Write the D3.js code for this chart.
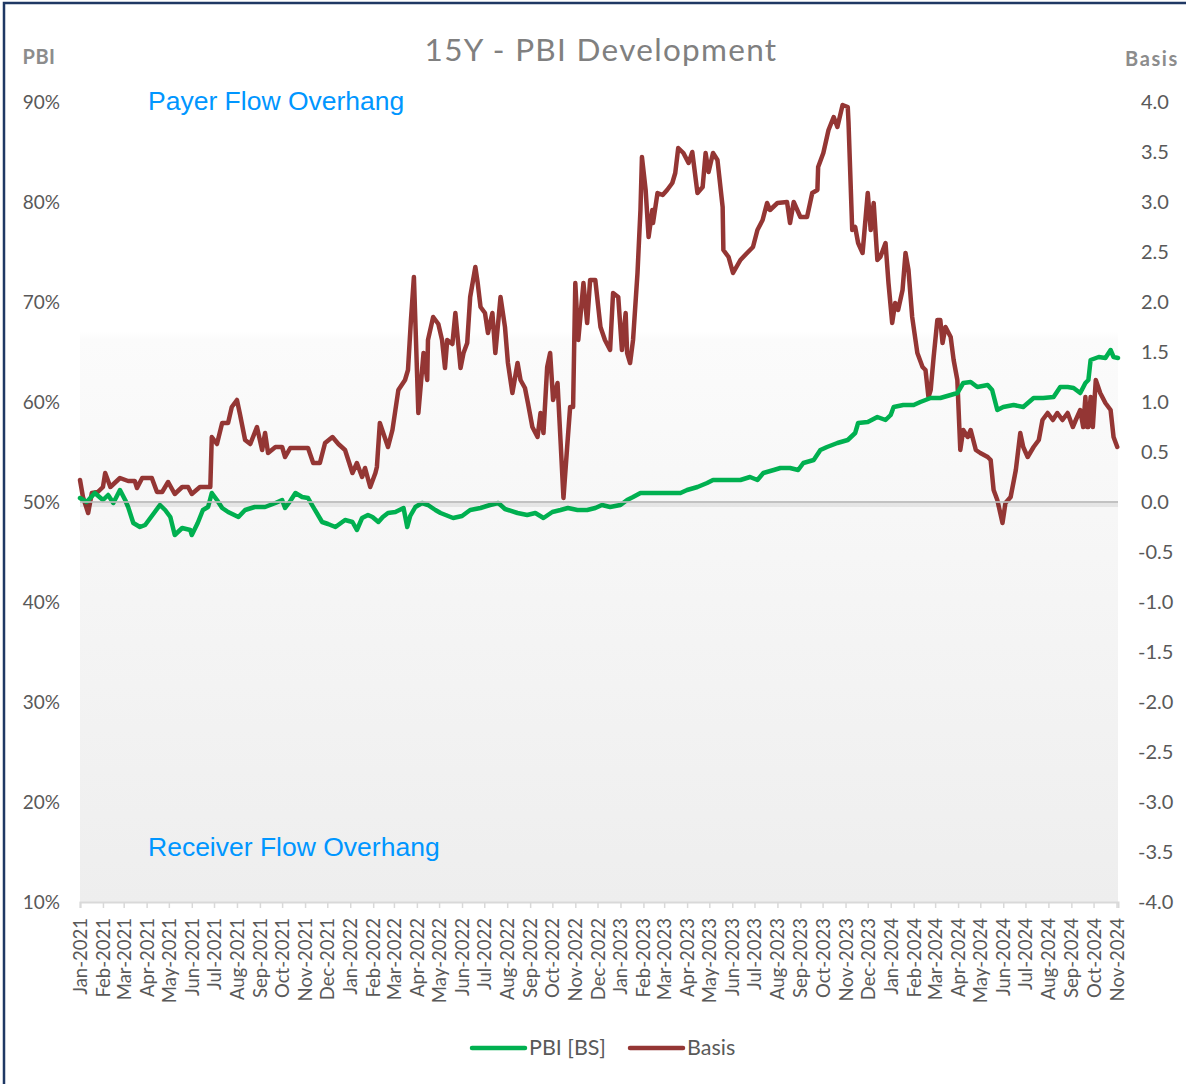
<!DOCTYPE html>
<html>
<head>
<meta charset="utf-8">
<script src="https://cdn.jsdelivr.net/npm/d3@7"></script>
<style>
  html, body { margin: 0; padding: 0; background: #fff; }
  svg { display: block; }
</style>
</head>
<body>
<div id="chart"></div>
<script>
// ---- data ----
const basisDates = [
  "2021-01-01","2021-01-05","2021-01-12","2021-01-17","2021-01-25","2021-02-01","2021-02-04","2021-02-11","2021-02-24","2021-03-07",
  "2021-03-16","2021-03-19","2021-03-26","2021-04-08","2021-04-15","2021-04-22","2021-04-30","2021-05-09","2021-05-19","2021-05-27",
  "2021-06-01","2021-06-12","2021-06-26","2021-06-28","2021-07-05","2021-07-12","2021-07-20","2021-07-25","2021-08-01","2021-08-05",
  "2021-08-12","2021-08-19","2021-08-28","2021-09-04","2021-09-08","2021-09-12","2021-09-22","2021-10-01","2021-10-05","2021-10-12",
  "2021-10-25","2021-11-05","2021-11-12","2021-11-21","2021-11-28","2021-12-08","2021-12-16","2021-12-25","2022-01-04","2022-01-10",
  "2022-01-17","2022-01-21","2022-01-28","2022-02-04","2022-02-06","2022-02-10","2022-02-21","2022-02-27","2022-03-03","2022-03-07",
  "2022-03-16","2022-03-20","2022-03-24","2022-03-28","2022-04-03","2022-04-10","2022-04-15","2022-04-16","2022-04-23","2022-04-30",
  "2022-05-05","2022-05-09","2022-05-12","2022-05-19","2022-05-23","2022-05-30","2022-06-03","2022-06-08","2022-06-12","2022-06-19",
  "2022-06-22","2022-06-26","2022-07-02","2022-07-06","2022-07-12","2022-07-16","2022-07-23","2022-07-29","2022-08-02","2022-08-08",
  "2022-08-15","2022-08-19","2022-08-25","2022-08-29","2022-09-04","2022-09-11","2022-09-15","2022-09-19","2022-09-24","2022-09-28",
  "2022-10-02","2022-10-08","2022-10-12","2022-10-16","2022-10-21","2022-10-25","2022-10-29","2022-11-01","2022-11-05","2022-11-12",
  "2022-11-17","2022-11-21","2022-11-28","2022-12-05","2022-12-11","2022-12-18","2022-12-22","2022-12-29","2023-01-03","2023-01-08",
  "2023-01-10","2023-01-14","2023-01-18","2023-01-24","2023-01-28","2023-01-30","2023-02-04","2023-02-08","2023-02-13","2023-02-14",
  "2023-02-20","2023-02-27","2023-03-05","2023-03-12","2023-03-16","2023-03-20","2023-03-27","2023-04-03","2023-04-08","2023-04-15",
  "2023-04-22","2023-04-26","2023-04-30","2023-05-06","2023-05-12","2023-05-19","2023-05-20","2023-05-27","2023-06-02","2023-06-12",
  "2023-06-21","2023-06-29","2023-07-05","2023-07-12","2023-07-18","2023-07-22","2023-08-01","2023-08-14","2023-08-18","2023-08-23",
  "2023-09-01","2023-09-10","2023-09-17","2023-09-24","2023-09-25","2023-10-02","2023-10-09","2023-10-16","2023-10-21","2023-10-28",
  "2023-11-04","2023-11-05","2023-11-10","2023-11-14","2023-11-18","2023-11-24","2023-12-01","2023-12-05","2023-12-09","2023-12-14",
  "2023-12-18","2023-12-25","2023-12-29","2024-01-03","2024-01-07","2024-01-11","2024-01-17","2024-01-21","2024-01-25","2024-01-30",
  "2024-02-06","2024-02-13","2024-02-17","2024-02-21","2024-02-24","2024-02-28","2024-03-04","2024-03-08","2024-03-11","2024-03-15",
  "2024-03-22","2024-03-26","2024-03-31","2024-04-04","2024-04-08","2024-04-14","2024-04-18","2024-04-25","2024-05-01","2024-05-11",
  "2024-05-15","2024-05-19","2024-05-24","2024-05-31","2024-06-04","2024-06-11","2024-06-18","2024-06-24","2024-06-28","2024-07-04",
  "2024-07-12","2024-07-19","2024-07-24","2024-07-31","2024-08-07","2024-08-13","2024-08-20","2024-08-27","2024-09-03","2024-09-07",
  "2024-09-13","2024-09-17","2024-09-20","2024-09-22","2024-09-24","2024-09-27","2024-09-30","2024-10-04","2024-10-10","2024-10-17",
  "2024-10-24","2024-10-28","2024-11-02"
];
const basisValues = [
  0.22,0.05,-0.11,0.09,0.10,0.15,0.29,0.15,0.24,0.21,
  0.21,0.14,0.24,0.24,0.10,0.10,0.20,0.08,0.15,0.15,
  0.08,0.15,0.15,0.65,0.58,0.79,0.79,0.95,1.02,0.88,
  0.62,0.58,0.75,0.52,0.69,0.49,0.55,0.55,0.45,0.54,
  0.54,0.54,0.39,0.39,0.59,0.65,0.58,0.52,0.29,0.39,
  0.25,0.34,0.15,0.29,0.35,0.79,0.55,0.72,0.92,1.12,
  1.22,1.32,1.82,2.25,0.89,1.49,1.22,1.62,1.85,1.78,
  1.62,1.34,1.62,1.58,1.89,1.34,1.49,1.59,2.05,2.35,
  2.20,1.95,1.89,1.69,1.89,1.49,2.05,1.75,1.39,1.09,
  1.39,1.22,1.14,0.99,0.75,0.65,0.89,0.69,1.35,1.49,
  1.02,1.19,0.62,0.04,0.55,0.95,0.95,2.19,1.62,2.19,
  1.79,2.22,2.22,1.75,1.62,1.52,2.09,2.05,1.52,1.89,
  1.49,1.39,1.62,2.29,2.92,3.45,3.12,2.65,2.92,2.79,
  3.09,3.07,3.12,3.19,3.29,3.54,3.49,3.39,3.50,3.09,
  3.15,3.49,3.30,3.49,3.42,2.95,2.52,2.45,2.29,2.42,
  2.49,2.55,2.72,2.82,2.99,2.92,2.99,3.00,2.79,3.00,
  2.85,2.85,3.09,3.12,3.35,3.49,3.72,3.85,3.75,3.97,
  3.95,3.80,2.72,2.75,2.59,2.49,3.09,2.72,2.99,2.42,
  2.45,2.59,2.19,1.79,1.99,1.92,2.12,2.49,2.32,1.85,
  1.49,1.35,1.32,1.05,1.12,1.45,1.82,1.82,1.59,1.75,
  1.65,1.42,1.22,0.52,0.72,0.65,0.72,0.52,0.49,0.45,
  0.42,0.12,0.02,-0.21,-0.01,0.05,0.32,0.69,0.55,0.45,
  0.55,0.62,0.82,0.89,0.82,0.89,0.82,0.89,0.75,0.82,
  0.92,0.75,1.05,0.75,0.75,1.05,0.75,1.22,1.09,0.99,
  0.92,0.65,0.55
];

const pbiDates = [
  "2021-01-01","2021-01-10","2021-01-21","2021-02-01","2021-02-08","2021-02-15","2021-02-24","2021-03-03","2021-03-07","2021-03-14",
  "2021-03-23","2021-03-30","2021-04-06","2021-04-12","2021-04-19","2021-04-26","2021-05-03","2021-05-09","2021-05-19","2021-05-30",
  "2021-06-01","2021-06-09","2021-06-16","2021-06-23","2021-06-28","2021-07-05","2021-07-12","2021-07-20","2021-08-03","2021-08-12",
  "2021-08-25","2021-09-08","2021-09-22","2021-10-01","2021-10-05","2021-10-12","2021-10-19","2021-10-28","2021-11-05","2021-11-12",
  "2021-11-24","2021-12-02","2021-12-12","2021-12-25","2022-01-04","2022-01-10","2022-01-17","2022-01-25","2022-01-31","2022-02-08",
  "2022-02-14","2022-02-21","2022-03-03","2022-03-14","2022-03-19","2022-03-23","2022-03-30","2022-04-08","2022-04-16","2022-04-26",
  "2022-05-03","2022-05-20","2022-06-01","2022-06-12","2022-06-26","2022-07-09","2022-07-20","2022-07-29","2022-08-15","2022-08-28",
  "2022-09-08","2022-09-19","2022-10-01","2022-10-12","2022-10-22","2022-11-04","2022-11-17","2022-11-28","2022-12-07","2022-12-18",
  "2023-01-01","2023-01-10","2023-01-18","2023-01-28","2023-02-10","2023-02-24","2023-03-09","2023-03-23","2023-04-01","2023-04-15",
  "2023-04-28","2023-05-06","2023-05-20","2023-05-29","2023-06-12","2023-06-25","2023-07-05","2023-07-13","2023-07-27","2023-08-05",
  "2023-08-18","2023-08-29","2023-09-05","2023-09-19","2023-09-28","2023-10-07","2023-10-21","2023-11-04","2023-11-14","2023-11-18",
  "2023-12-01","2023-12-14","2023-12-25","2024-01-01","2024-01-05","2024-01-18","2024-02-01","2024-02-10","2024-02-24","2024-03-08",
  "2024-03-22","2024-03-31","2024-04-08","2024-04-18","2024-04-27","2024-05-11","2024-05-17","2024-05-24","2024-06-01","2024-06-15",
  "2024-06-28","2024-07-12","2024-07-25","2024-08-08","2024-08-17","2024-08-27","2024-09-04","2024-09-13","2024-09-20","2024-09-24",
  "2024-09-27","2024-10-08","2024-10-17","2024-10-24","2024-10-28","2024-11-03"
];
const pbiValues = [
  50.4,50.0,50.9,50.2,50.7,49.9,51.2,50.2,49.5,47.9,
  47.5,47.7,48.4,49.0,49.7,49.2,48.5,46.7,47.4,47.2,
  46.7,47.9,49.2,49.5,50.9,50.2,49.4,49.0,48.5,49.2,
  49.5,49.5,49.9,50.2,49.4,50.1,50.9,50.5,50.4,49.5,
  48.0,47.8,47.5,48.2,48.0,47.2,48.4,48.7,48.5,48.0,
  48.5,48.9,49.0,49.4,47.5,48.6,49.5,49.9,49.7,49.2,
  48.9,48.4,48.6,49.2,49.4,49.7,49.9,49.3,48.9,48.7,
  48.9,48.4,49.0,49.2,49.4,49.2,49.2,49.4,49.7,49.5,
  49.7,50.2,50.5,50.9,50.9,50.9,50.9,50.9,51.2,51.5,
  51.9,52.2,52.2,52.2,52.2,52.5,52.2,52.9,53.2,53.4,
  53.4,53.2,53.9,54.2,55.2,55.5,55.9,56.2,56.9,57.9,
  58.0,58.5,58.2,58.7,59.5,59.7,59.7,60.0,60.4,60.4,
  60.7,60.9,61.9,62.0,61.5,61.7,61.2,59.2,59.5,59.7,
  59.5,60.4,60.4,60.5,61.5,61.5,61.4,60.9,61.9,62.2,
  64.2,64.5,64.4,65.2,64.5,64.4
];

const leftTickValues = [10, 20, 30, 40, 50, 60, 70, 80, 90];
const rightTickValues = [-4, -3.5, -3, -2.5, -2, -1.5, -1, -0.5, 0, 0.5, 1, 1.5, 2, 2.5, 3, 3.5, 4];
const xStart = "2021-01-01";
const xEnd = "2024-11-03";
const seriesNames = ["PBI [BS]", "Basis"];
const seriesColors = ["#00b050", "#943634"];

// ---- layout ----
const width = 1186;
const height = 1084;
const plotLeft = 80, plotRight = 1118, plotTop = 102, plotBottom = 902;
const grayText = "#595959";
const font = "Lato, 'Open Sans', sans-serif";

const parse = d3.timeParse("%Y-%m-%d");

const svg = d3.select('#chart')
  .append('svg')
  .attr('width', width)
  .attr('height', height)
  .style('font-family', font);

const defs = svg.append('defs');
const grad = defs.append('linearGradient')
  .attr('id', 'bg')
  .attr('x1', 0).attr('y1', 0).attr('x2', 0).attr('y2', 1);
grad.append('stop').attr('offset', '0%').attr('stop-color', '#ffffff');
grad.append('stop').attr('offset', '29.5%').attr('stop-color', '#ffffff');
grad.append('stop').attr('offset', '30.5%').attr('stop-color', '#fbfbfb');
grad.append('stop').attr('offset', '100%').attr('stop-color', '#eeeeee');

/* frame */
svg.append('rect')
  .attr('x', 4).attr('y', 3)
  .attr('width', width + 10).attr('height', height + 10)
  .attr('fill', '#fff')
  .attr('stroke', '#1f3864')
  .attr('stroke-width', 2.5);

/* Scale */
const xScale = d3.scaleTime()
  .domain([parse(xStart), parse(xEnd)])
  .range([plotLeft, plotRight]);

const yLeft = d3.scaleLinear().domain([10, 90]).range([plotBottom, plotTop]);
const yRight = d3.scaleLinear().domain([-4, 4]).range([plotBottom, plotTop]);

/* plot background */
svg.append('rect')
  .attr('x', plotLeft).attr('y', plotTop - 10)
  .attr('width', plotRight - plotLeft).attr('height', plotBottom - plotTop + 10)
  .attr('fill', 'url(#bg)');

/* title + axis titles */
svg.append('text')
  .attr('x', 601).attr('y', 61)
  .attr('text-anchor', 'middle')
  .attr('fill', '#808080')
  .style('font-size', '31.5px')
  .style('letter-spacing', '1.3px')
  .text('15Y - PBI Development');

svg.append('text')
  .attr('x', 39).attr('y', 64)
  .attr('text-anchor', 'middle')
  .attr('fill', '#8c8c8c')
  .style('font-size', '20px')
  .style('font-weight', 'bold')
  .style('letter-spacing', '0.5px')
  .text('PBI');

svg.append('text')
  .attr('x', 1152).attr('y', 66)
  .attr('text-anchor', 'middle')
  .attr('fill', '#8c8c8c')
  .style('font-size', '20px')
  .style('font-weight', 'bold')
  .style('letter-spacing', '1.6px')
  .text('Basis');

/* Axes */
const leftAxis = d3.axisLeft(yLeft)
  .tickValues(leftTickValues)
  .tickFormat((d) => d + '%')
  .tickSize(0)
  .tickPadding(20);

svg.append('g')
  .attr('class', 'y axis left')
  .attr('transform', `translate(${plotLeft}, 0)`)
  .call(leftAxis)
  .call((g) => g.select('.domain').remove())
  .selectAll('text')
  .attr('fill', grayText)
  .style('font-size', '19px')
  .style('font-family', font);

const rightAxis = d3.axisRight(yRight)
  .tickValues(rightTickValues)
  .tickFormat((d) => d.toFixed(1))
  .tickSize(0)
  .tickPadding(0);

svg.append('g')
  .attr('class', 'y axis right')
  .attr('transform', `translate(1140, 0)`)
  .call(rightAxis)
  .call((g) => g.select('.domain').remove())
  .selectAll('text')
  .attr('x', (d) => (d < 0 ? -2 : 1))
  .attr('fill', grayText)
  .style('font-size', '20px')
  .style('font-family', font);

const xAxis = d3.axisBottom(xScale)
  .ticks(d3.timeMonth.every(1))
  .tickFormat(d3.timeFormat('%b-%Y'))
  .tickSize(6);

const xg = svg.append('g')
  .attr('class', 'x axis')
  .attr('transform', `translate(0, ${plotBottom})`)
  .call(xAxis);
xg.select('.domain').attr('stroke', '#d9d9d9').attr('stroke-width', 2);
xg.selectAll('.tick line').attr('stroke', '#d9d9d9').attr('stroke-width', 1.5);
xg.selectAll('.tick text')
  .attr('transform', 'rotate(-90)')
  .attr('text-anchor', 'end')
  .attr('x', -16)
  .attr('y', 0)
  .attr('dy', '0.35em')
  .attr('fill', grayText)
  .style('font-size', '18.5px')
  .style('font-family', font);

/* annotations */
svg.append('text')
  .attr('x', 148).attr('y', 110)
  .attr('fill', '#0096ff')
  .style('font-family', 'Arial, "Liberation Sans", sans-serif')
  .style('font-size', '26.5px')
  .text('Payer Flow Overhang');

svg.append('text')
  .attr('x', 148).attr('y', 856)
  .attr('fill', '#0096ff')
  .style('font-family', 'Arial, "Liberation Sans", sans-serif')
  .style('font-size', '26.5px')
  .text('Receiver Flow Overhang');

/* lines */
const pbiData = pbiDates.map((d, i) => ({ x: parse(d), y: pbiValues[i] }));
const basisData = basisDates.map((d, i) => ({ x: parse(d), y: basisValues[i] }));

const pbiLine = d3.line()
  .x((d) => xScale(d.x))
  .y((d) => yLeft(d.y));

const basisLine = d3.line()
  .x((d) => xScale(d.x))
  .y((d) => yRight(d.y));

const lines = svg.append('g').attr('class', 'lines');

lines.append('path')
  .attr('d', basisLine(basisData))
  .style('stroke', seriesColors[1])
  .style('stroke-width', 4.5)
  .attr('stroke-linejoin', 'round')
  .attr('stroke-linecap', 'round')
  .style('fill', 'none');

lines.append('path')
  .attr('d', pbiLine(pbiData))
  .style('stroke', seriesColors[0])
  .style('stroke-width', 4.5)
  .attr('stroke-linejoin', 'round')
  .attr('stroke-linecap', 'round')
  .style('fill', 'none');

/* zero line with a soft shadow */
const zeroY = yRight(0);
svg.append('line')
  .attr('x1', plotLeft).attr('x2', plotRight)
  .attr('y1', zeroY + 3).attr('y2', zeroY + 3)
  .attr('stroke', '#000')
  .attr('stroke-opacity', 0.07)
  .attr('stroke-width', 4);
svg.append('line')
  .attr('x1', plotLeft).attr('x2', plotRight)
  .attr('y1', zeroY).attr('y2', zeroY)
  .attr('stroke', '#b8b8b8')
  .attr('stroke-opacity', 0.85)
  .attr('stroke-width', 2);

/* legend */
const legend = svg.append('g').attr('class', 'legend');
const legendItems = [
  { x: 472, name: seriesNames[0], color: seriesColors[0] },
  { x: 630, name: seriesNames[1], color: seriesColors[1] }
];
legendItems.forEach((item) => {
  legend.append('line')
    .attr('x1', item.x).attr('x2', item.x + 53)
    .attr('y1', 1048).attr('y2', 1048)
    .attr('stroke', item.color)
    .attr('stroke-width', 4.5)
    .attr('stroke-linecap', 'round');
  legend.append('text')
    .attr('x', item.x + 57).attr('y', 1055)
    .attr('fill', grayText)
    .style('font-size', '21.5px')
    .text(item.name);
});
</script>
</body>
</html>
